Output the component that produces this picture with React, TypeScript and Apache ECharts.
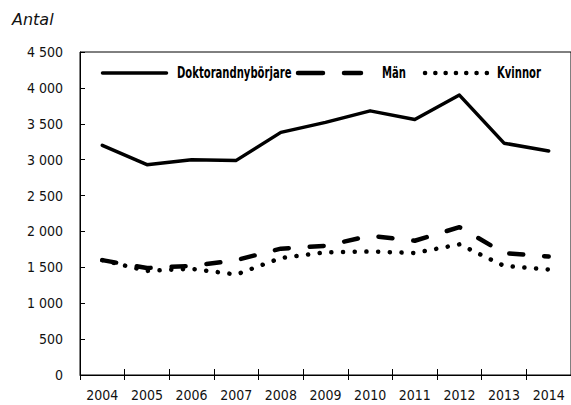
import React, { useEffect, useRef } from "react";
import * as echarts from "echarts";

const years = ["2004", "2005", "2006", "2007", "2008", "2009", "2010", "2011", "2012", "2013", "2014"];
const total = [3200, 2930, 3000, 2990, 3380, 3520, 3680, 3560, 3900, 3230, 3120];
const men = [1600, 1490, 1520, 1600, 1760, 1800, 1940, 1870, 2060, 1700, 1650];
const women = [1600, 1450, 1480, 1400, 1630, 1710, 1720, 1700, 1820, 1520, 1470];
const seriesNames = ["Doktorandnybörjare", "Män", "Kvinnor"];
const yMin = 0;
const yMax = 4500;
const yStep = 500;

const narrow = "'DejaVu Sans Condensed', 'Liberation Sans Narrow', sans-serif";

export default function App() {
  const ref = useRef<HTMLDivElement>(null);
  useEffect(() => {
    if (!ref.current) return;
    const chart = echarts.init(ref.current, null, { renderer: "svg" });
    const fmt = (v: number) => String(Math.round(v)).replace(/\B(?=(\d{3})+(?!\d))/g, " ");
    const legendY = 73;
    const legendFont = "bold 15px 'DejaVu Sans Condensed', sans-serif";
    const legendText = (text: string, x: number) => ({
      type: "text",
      x,
      y: legendY,
      scaleX: 0.745,
      silent: true,
      style: { text, x: 0, y: 0, font: legendFont, fill: "#000", textVerticalAlign: "middle", textAlign: "left" },
    });
    const legendLine = (x1: number, x2: number, width: number, dash: number[] | null) => ({
      type: "line",
      silent: true,
      shape: { x1, y1: legendY, x2, y2: legendY },
      style: { stroke: "#000", lineWidth: width, lineCap: "round", lineDash: dash || undefined },
    });
    chart.setOption({
      animation: false,
      backgroundColor: "#fff",
      grid: {
        left: 80,
        right: -9,
        top: 52,
        bottom: 30,
        show: true,
        borderColor: "#000",
        borderWidth: 1,
        containLabel: false,
      },
      graphic: [
        {
          type: "text",
          left: 12,
          top: 11,
          style: { text: "Antal", font: "italic 16px 'DejaVu Sans', sans-serif", fill: "#111" },
        },
        legendLine(102.5, 166.5, 3.5, null),
        legendText(seriesNames[0], 177),
        legendLine(298, 361, 4.5, [25, 21]),
        legendText(seriesNames[1], 382),
        legendLine(425, 487, 4.5, [0.1, 10.2]),
        legendText(seriesNames[2], 497),
      ],
      xAxis: [
        {
          type: "category",
          data: years,
          position: "bottom",
          boundaryGap: true,
          axisLine: { show: true, lineStyle: { color: "#000", width: 1 } },
          axisTick: { show: true, length: 5, lineStyle: { color: "#000" } },
          axisLabel: { interval: 0, margin: 13, fontFamily: narrow, fontSize: 14, color: "#111" },
          splitLine: { show: false },
        },
        {
          type: "category",
          data: years,
          position: "bottom",
          offset: 0,
          gridIndex: 0,
          boundaryGap: true,
          axisLine: { show: false },
          axisTick: { show: true, inside: true, length: 6, lineStyle: { color: "#000" } },
          axisLabel: { show: false },
          splitLine: { show: false },
        },
      ],
      yAxis: {
        type: "value",
        min: yMin,
        max: yMax,
        interval: yStep,
        axisLine: { show: true, lineStyle: { color: "#000", width: 1 } },
        axisTick: { show: true, inside: true, length: 5, lineStyle: { color: "#000" } },
        axisLabel: { margin: 17, fontFamily: narrow, fontSize: 14, color: "#111", formatter: fmt },
        splitLine: { show: false },
      },
      series: [
        {
          name: seriesNames[0],
          type: "line",
          data: total,
          symbol: "none",
          lineStyle: { color: "#000", width: 3.5, type: "solid", cap: "round", join: "round" },
          itemStyle: { color: "#000" },
        },
        {
          name: seriesNames[1],
          type: "line",
          data: men,
          symbol: "none",
          lineStyle: { color: "#000", width: 4.5, type: [14, 21], cap: "round", join: "round" },
          itemStyle: { color: "#000" },
        },
        {
          name: seriesNames[2],
          type: "line",
          data: women,
          symbol: "none",
          lineStyle: { color: "#000", width: 4.5, type: [0.1, 11.6], cap: "round", join: "round" },
          itemStyle: { color: "#000" },
        },
      ],
    });
    return () => chart.dispose();
  }, []);
  return (
    <div
      ref={ref}
      style={{ position: "fixed", left: 0, top: 0, width: 571, height: 405, background: "#fff" }}
    />
  );
}
